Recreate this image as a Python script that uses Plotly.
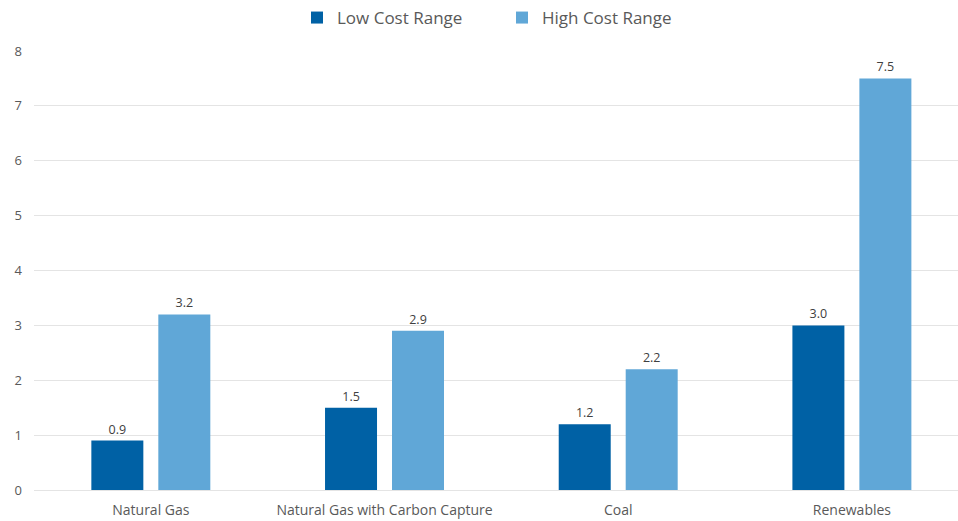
import plotly.graph_objects as go

categories = ["Natural Gas", "Natural Gas with Carbon Capture", "Coal", "Renewables"]
low_cost = [0.9, 1.5, 1.2, 3.0]
high_cost = [3.2, 2.9, 2.2, 7.5]
y_ticks = [0, 1, 2, 3, 4, 5, 6, 7, 8]

FONT = "Open Sans"
GRAY = "#595959"

fig = go.Figure()
fig.add_trace(go.Bar(
    x=categories, y=low_cost, name="Low Cost Range",
    marker=dict(color="#0061a5", line=dict(width=0)),
    width=0.2225, offset=-0.2546,
    text=[f"{v:.1f}" for v in low_cost], textposition="outside",
    textfont=dict(family=FONT, size=12.5, color="#404040"), cliponaxis=False,
))
fig.add_trace(go.Bar(
    x=categories, y=high_cost, name="High Cost Range",
    marker=dict(color="#60a7d7", line=dict(width=0)),
    width=0.2225, offset=0.032,
    text=[f"{v:.1f}" for v in high_cost], textposition="outside",
    textfont=dict(family=FONT, size=12.5, color="#404040"), cliponaxis=False,
))

fig.update_layout(
    width=958, height=521,
    margin=dict(l=34, r=0, t=51, b=31),
    paper_bgcolor="white", plot_bgcolor="white",
    font=dict(family=FONT, size=12, color=GRAY),
    barmode="overlay",
    showlegend=True,
    legend=dict(orientation="h", x=297 / 958, xanchor="left", xref="container",
                y=1.0, yanchor="top", yref="container",
                font=dict(family=FONT, size=17, color=GRAY),
                entrywidth=160, traceorder="normal"),
    xaxis=dict(type="category", range=[-0.5, 3.454], showgrid=False, showline=False,
               ticks="", ticklabelstandoff=10,
               tickfont=dict(family=FONT, size=14, color=GRAY), fixedrange=True),
    yaxis=dict(range=[0, 8], tickvals=y_ticks, showgrid=True, gridcolor="#e4e4e4", gridwidth=1,
               zeroline=True, zerolinecolor="#e4e4e4", zerolinewidth=1, showline=False,
               ticks="", ticklabelstandoff=11,
               tickfont=dict(family=FONT, size=13, color=GRAY)),
)

fig.write_html("out.html")
